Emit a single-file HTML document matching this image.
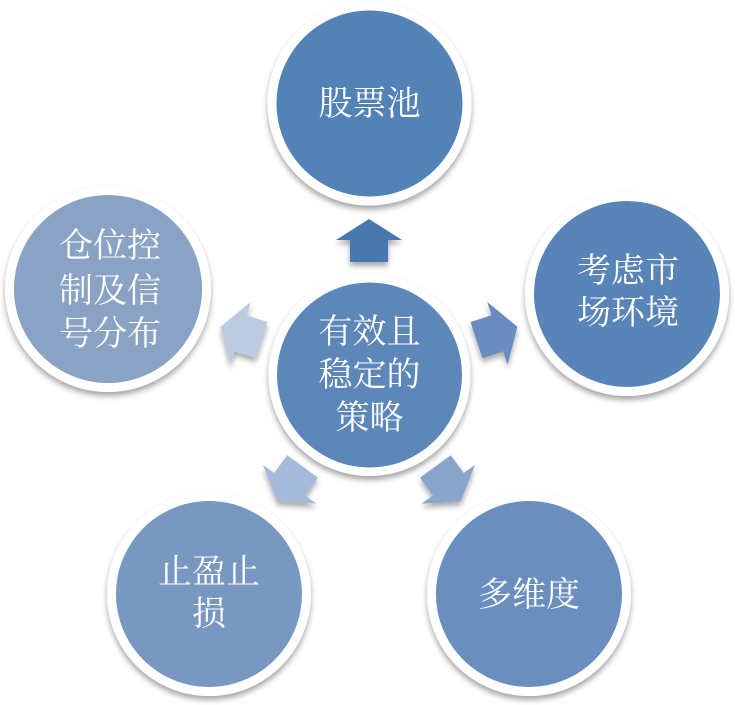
<!DOCTYPE html>
<html><head><meta charset="utf-8"><style>
html,body{margin:0;padding:0;background:#fff;width:735px;height:705px;overflow:hidden}
svg text{font-family:"Liberation Serif","Noto Serif CJK SC",serif;fill:#fff;font-size:34px;text-anchor:middle}
</style></head><body>
<svg width="735" height="705" viewBox="0 0 735 705">
<defs>
<filter id="sh" x="-20%" y="-20%" width="140%" height="150%">
<feGaussianBlur in="SourceAlpha" stdDeviation="3"/>
<feOffset dx="0" dy="4"/>
<feComponentTransfer><feFuncA type="linear" slope="0.35"/></feComponentTransfer>
<feMerge><feMergeNode/><feMergeNode in="SourceGraphic"/></feMerge>
</filter>
<path id="arr" d="M0,-22 L33,-1 L19,-1 L19,21 L-19,21 L-19,-1 L-33,-1 Z"/>
</defs>
<g filter="url(#sh)">
<g transform="translate(369,375)">
<use href="#arr" fill="#4a78b0" transform="rotate(0) translate(0,-134)"/>
<use href="#arr" fill="#6a8cbf" transform="rotate(72) translate(0,-134)"/>
<use href="#arr" fill="#8aa5cc" transform="rotate(144) translate(0,-134)"/>
<use href="#arr" fill="#a5b9d9" transform="rotate(216) translate(0,-134)"/>
<use href="#arr" fill="#bccbe0" transform="rotate(288) translate(0,-134)"/>
</g>
<circle cx="369.5" cy="103.5" r="102" fill="#fff"/>
<circle cx="369.5" cy="103.5" r="93" fill="#5282b7"/>
<circle cx="627" cy="294" r="102" fill="#fff"/>
<circle cx="627" cy="294" r="93" fill="#5884b7"/>
<circle cx="529" cy="594" r="102" fill="#fff"/>
<circle cx="529" cy="594" r="93" fill="#6a8ebd"/>
<circle cx="209" cy="594" r="102" fill="#fff"/>
<circle cx="209" cy="594" r="93" fill="#7897c1"/>
<circle cx="108" cy="289" r="103" fill="#fff"/>
<circle cx="108" cy="289" r="94" fill="#8aa3c4"/>
<circle cx="369.5" cy="375" r="101" fill="#fff"/>
<circle cx="369.5" cy="375" r="92.5" fill="#5b87b8"/>
</g>
<text x="369.5" y="115">股票池</text>
<text x="628" y="282">考虑市</text>
<text x="628" y="324">场环境</text>
<text x="529" y="606">多维度</text>
<text x="209" y="583">止盈止</text>
<text x="209" y="625">损</text>
<text x="110" y="257">仓位控</text>
<text x="110" y="302">制及信</text>
<text x="110" y="345">号分布</text>
<text x="369.5" y="343">有效且</text>
<text x="369.5" y="386">稳定的</text>
<text x="369.5" y="429">策略</text>
</svg>
</body></html>
